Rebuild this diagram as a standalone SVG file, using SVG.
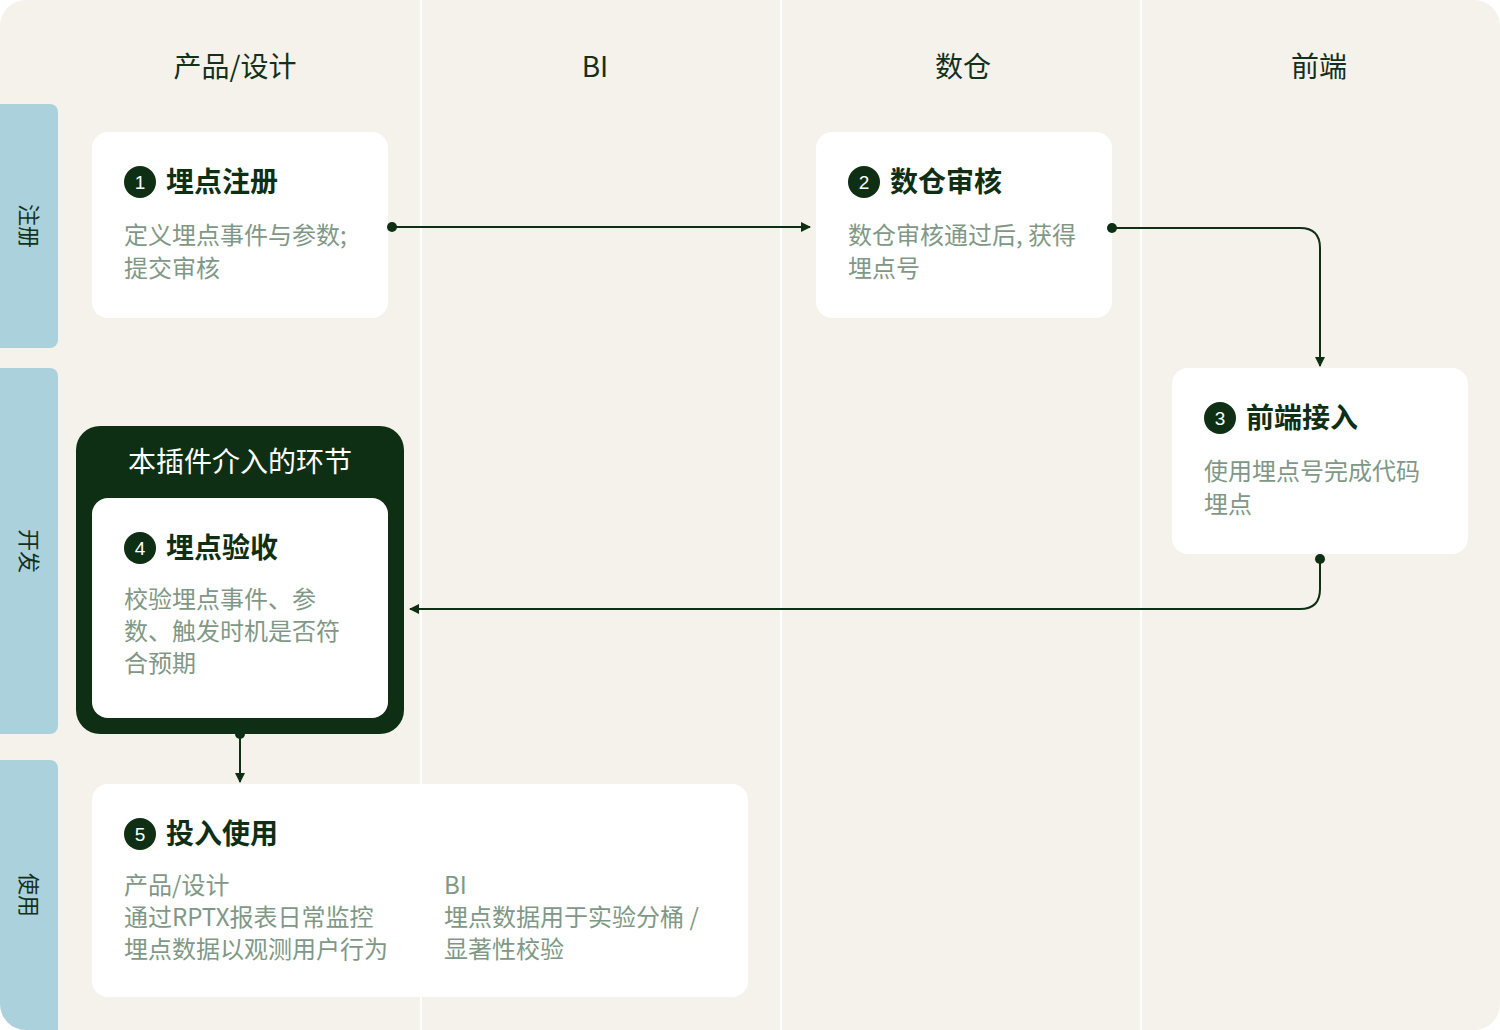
<svg xmlns="http://www.w3.org/2000/svg" width="1500" height="1030" viewBox="0 0 1500 1030">
<style>
text{font-family:"Noto Sans CJK SC","Noto Sans",sans-serif}
.hdr{font-size:28px;fill:#13301a;text-anchor:middle}
.lane{font-size:22px;fill:#13301a;text-anchor:middle}
.card{fill:#ffffff}
.ttl{font-size:28px;font-weight:700;fill:#0f2f14}
.dsc{font-size:24px;fill:#7f9886}
.badge{fill:#0f2f14}
.bnum{font-size:19px;fill:#ffffff;text-anchor:middle;font-family:"Liberation Sans",sans-serif}
.edge{fill:none;stroke:#0f2f14;stroke-width:2}
.dot{fill:#0f2f14}
</style>
<defs>
<clipPath id="bg"><rect x="0" y="0" width="1500" height="1030" rx="26"/></clipPath>
<marker id="ah" viewBox="0 0 10 10" refX="9" refY="5" markerWidth="10" markerHeight="10" markerUnits="userSpaceOnUse" orient="auto"><path d="M0,0 L10,5 L0,10 z" fill="#0f2f14"/></marker>
</defs>
<rect width="1500" height="1030" fill="#ffffff"/>
<g clip-path="url(#bg)">
<rect x="0" y="0" width="1500" height="1030" fill="#f5f2eb"/>
<g id="dividers" fill="#ffffff">
<rect x="420" y="0" width="2" height="1030"/>
<rect x="780" y="0" width="2" height="1030"/>
<rect x="1140" y="0" width="2" height="1030"/>
</g>
<g id="lanes">
<g id="lane-reg"><rect x="-10" y="104" width="68" height="244" rx="8" fill="#abd2dc"/><text class="lane" transform="translate(29,226) rotate(90)" y="8">注册</text></g>
<g id="lane-dev"><rect x="-10" y="368" width="68" height="366" rx="8" fill="#abd2dc"/><text class="lane" transform="translate(29,551) rotate(90)" y="8">开发</text></g>
<g id="lane-use"><rect x="-10" y="760" width="68" height="290" rx="8" fill="#abd2dc"/><text class="lane" transform="translate(29,895) rotate(90)" y="8">使用</text></g>
</g>
</g>
<g id="headers">
<text class="hdr" x="235" y="77">产品/设计</text>
<text class="hdr" x="595" y="77">BI</text>
<text class="hdr" x="963" y="77">数仓</text>
<text class="hdr" x="1319" y="77">前端</text>
</g>
<g id="node1">
<rect class="card" x="92" y="132" width="296" height="186" rx="16"/>
<circle class="badge" cx="140" cy="182" r="16"/><text class="bnum" x="140" y="189">1</text>
<text class="ttl" x="166" y="192">埋点注册</text>
<text class="dsc" x="124" y="244">定义埋点事件与参数;</text>
<text class="dsc" x="124" y="277">提交审核</text>
</g>
<g id="node2">
<rect class="card" x="816" y="132" width="296" height="186" rx="16"/>
<circle class="badge" cx="864" cy="182" r="16"/><text class="bnum" x="864" y="189">2</text>
<text class="ttl" x="890" y="192">数仓审核</text>
<text class="dsc" x="848" y="244">数仓审核通过后, 获得</text>
<text class="dsc" x="848" y="277">埋点号</text>
</g>
<g id="node3">
<rect class="card" x="1172" y="368" width="296" height="186" rx="16"/>
<circle class="badge" cx="1220" cy="418" r="16"/><text class="bnum" x="1220" y="425">3</text>
<text class="ttl" x="1246" y="428">前端接入</text>
<text class="dsc" x="1204" y="480">使用埋点号完成代码</text>
<text class="dsc" x="1204" y="513">埋点</text>
</g>
<g id="plugin-group">
<rect x="76" y="426" width="328" height="308" rx="24" fill="#0f2f14"/>
<text x="240" y="472" font-size="28" fill="#ffffff" text-anchor="middle">本插件介入的环节</text>
</g>
<g id="node4">
<rect class="card" x="92" y="498" width="296" height="220" rx="16"/>
<circle class="badge" cx="140" cy="548" r="16"/><text class="bnum" x="140" y="555">4</text>
<text class="ttl" x="166" y="558">埋点验收</text>
<text class="dsc" x="124" y="608">校验埋点事件、参</text>
<text class="dsc" x="124" y="640">数、触发时机是否符</text>
<text class="dsc" x="124" y="672">合预期</text>
</g>
<g id="node5">
<rect class="card" x="92" y="784" width="656" height="213" rx="16"/>
<circle class="badge" cx="140" cy="834" r="16"/><text class="bnum" x="140" y="841">5</text>
<text class="ttl" x="166" y="844">投入使用</text>
<text class="dsc" x="124" y="894">产品/设计</text>
<text class="dsc" x="124" y="926">通过RPTX报表日常监控</text>
<text class="dsc" x="124" y="958">埋点数据以观测用户行为</text>
<text class="dsc" x="444" y="894">BI</text>
<text class="dsc" x="444" y="926">埋点数据用于实验分桶 /</text>
<text class="dsc" x="444" y="958">显著性校验</text>
</g>
<g id="connectors">
<path class="edge" d="M392,227 H810" marker-end="url(#ah)"/>
<circle class="dot" cx="392" cy="227" r="5"/>
<path class="edge" d="M1112,228 H1300 Q1320,228 1320,248 V366" marker-end="url(#ah)"/>
<circle class="dot" cx="1112" cy="228" r="5"/>
<path class="edge" d="M1320,559 V589 Q1320,609 1300,609 H410" marker-end="url(#ah)"/>
<circle class="dot" cx="1320" cy="559" r="5"/>
<path class="edge" d="M240,734 V782" marker-end="url(#ah)"/>
<circle class="dot" cx="240" cy="734" r="5"/>
</g>
</svg>
